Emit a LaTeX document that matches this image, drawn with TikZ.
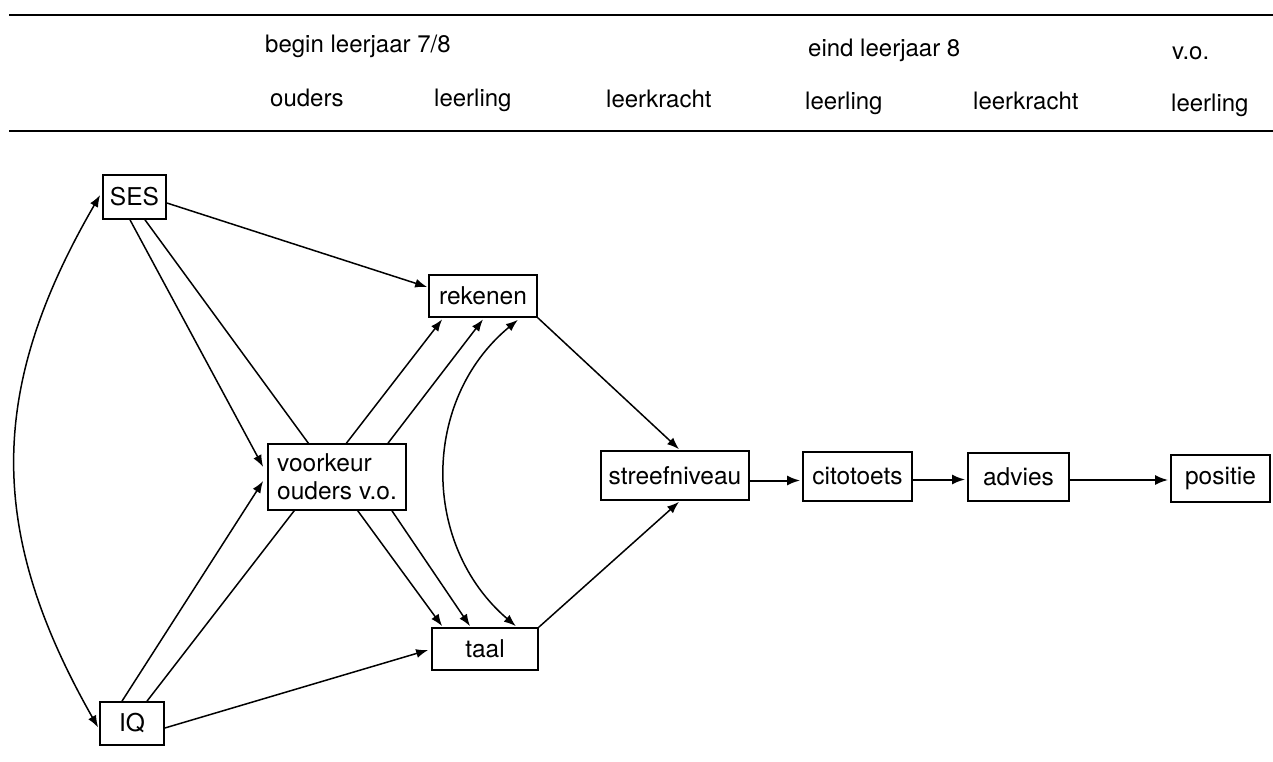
\documentclass[tikz,border=0pt]{standalone}
\usepackage{fontspec}
\setmainfont{TeX Gyre Heros}
\usetikzlibrary{arrows.meta,calc}
\pgfdeclarelayer{edges}
\pgfsetlayers{edges,main}
\begin{document}
\begin{tikzpicture}[x=1pt,y=-1pt,
  box/.style={draw,line width=1.7pt,fill=white,inner sep=0pt,
    font=\fontsize{24.5}{28}\selectfont},
  head/.style={anchor=base west,inner sep=0pt,font=\fontsize{24}{28}\selectfont},
  conn/.style={line width=1.5pt,-{Latex[length=12pt,width=9pt]}},
  flow/.style={line width=2pt,-{Latex[length=13pt,width=10pt]}},
  both/.style={line width=1.5pt,{Latex[length=12pt,width=9pt]}-{Latex[length=12pt,width=9pt]}},
  rulel/.style={line width=1.9pt}]
\useasboundingbox (0,0) rectangle (1273,762);

% table head
\draw[rulel] (9,15) -- (1273,15);
\draw[rulel] (9,131) -- (1273,131);
\node[head] (h1) at (265,53) {begin leerjaar 7/8};
\node[head] (h2) at (808,57) {eind leerjaar 8};
\node[head] (h3) at (1172,60) {v.o.};
\node[head] (c1) at (270,107) {ouders};
\node[head] (c2) at (434,107) {leerling};
\node[head] (c3) at (606,108) {leerkracht};
\node[head] (c4) at (805,110) {leerling};
\node[head] (c5) at (973,110) {leerkracht};
\node[head] (c6) at (1171,112) {leerling};

% variables
\node[box,minimum width=63pt,minimum height=44pt] (ses) at (134.5,197) {SES};
\node[box,minimum width=64pt,minimum height=43pt] (iq) at (132,723.5) {IQ};
\node[box,minimum width=138pt,minimum height=66pt,align=left] (voo) at (337,477)
  {voorkeur\\ouders v.o.};
\node[box,minimum width=108pt,minimum height=42pt] (rek) at (483,296) {rekenen};
\node[box,minimum width=106pt,minimum height=42pt] (taal) at (485,649) {taal};
\node[box,minimum width=148pt,minimum height=49pt] (str) at (675,475.5) {streefniveau};
\node[box,minimum width=109pt,minimum height=49pt] (cito) at (857.5,476.5) {citotoets};
\node[box,minimum width=101pt,minimum height=48pt] (adv) at (1018.5,477) {advies};
\node[box,minimum width=99pt,minimum height=47pt] (pos) at (1220.5,478.5) {positie};

% paths
\begin{pgfonlayer}{edges}
\draw[both] ($(ses.west)+(-2,-2)$) .. controls (-13,390) and (-13,532) .. ($(iq.west)+(-1,4)$);
\draw[conn] ($(ses.east)+(0,6)$) -- ($(rek.west)+(-1,-9)$);
\draw[conn] ($(ses.south)+(-4.5,0)$) -- ($(voo.west)+(-4,-10)$);
\draw[conn] ($(ses.south)+(10.5,0)$) -- ($(taal.north west)+(11,-1)$);
\draw[conn] ($(iq.north)+(-10,0)$) -- ($(voo.west)+(-4,4)$);
\draw[conn] ($(iq.north)+(15,0)$) -- ($(rek.south west)+(14,1.5)$);
\draw[conn] ($(iq.east)+(0,4.5)$) -- ($(taal.west)+(-3,1)$);
\draw[conn] ($(voo.north)+(51,0)$) -- ($(rek.south)+(0,1.5)$);
\draw[conn] ($(voo.south)+(55,0)$) -- ($(taal.north)+(-15,-1)$);
\draw[both] ($(rek.south east)+(-20,2)$) .. controls (421,400) and (421,545) .. ($(taal.north east)+(-23,-1)$);
\draw[conn] (rek.south east) -- ($(str.north)+(4,-1)$);
\draw[conn] (taal.north east) -- ($(str.south)+(4,1)$);
\draw[flow] ($(str.east)+(0,5)$) -- ($(cito.west)+(-2,4)$);
\draw[flow] ($(cito.east)+(0,3)$) -- ($(adv.west)+(-2,2.5)$);
\draw[flow] ($(adv.east)+(0,3)$) -- ($(pos.west)+(-2,1.5)$);
\end{pgfonlayer}
\end{tikzpicture}
\end{document}
